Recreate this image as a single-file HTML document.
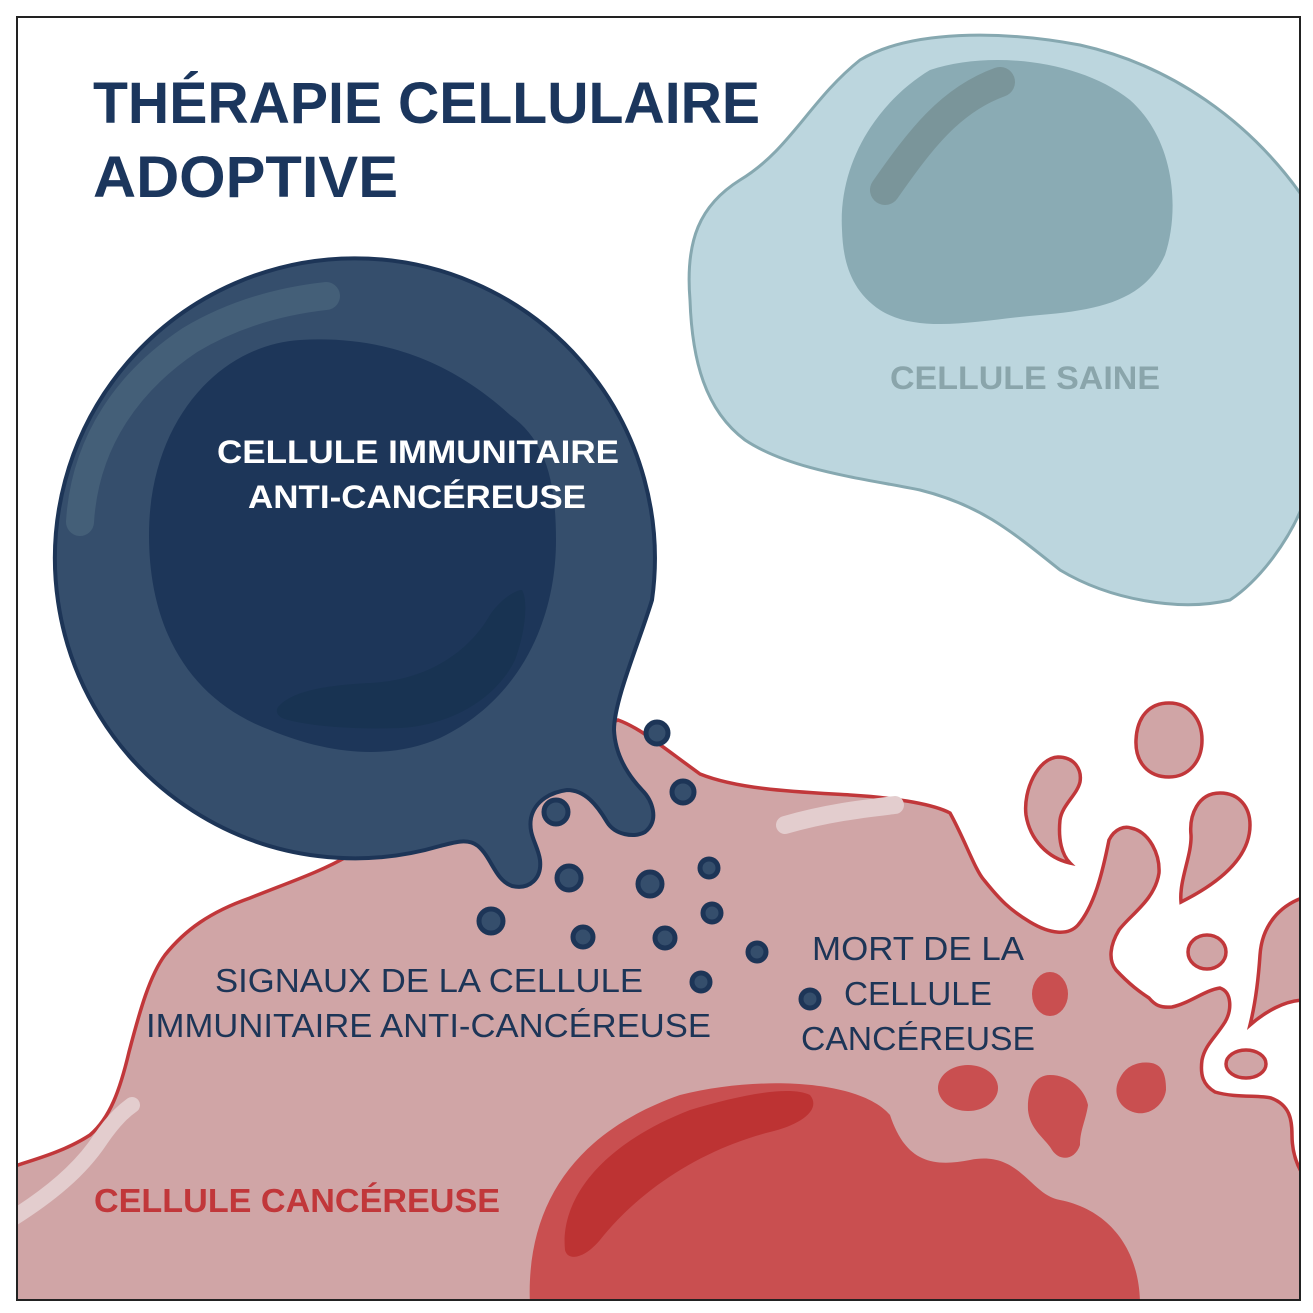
<!DOCTYPE html>
<html><head><meta charset="utf-8"><style>html,body{margin:0;padding:0;background:#fff}svg{display:block}</style></head>
<body>
<svg width="1313" height="1313" viewBox="0 0 1313 1313" xmlns="http://www.w3.org/2000/svg">
<defs><clipPath id="fr"><rect x="17" y="17" width="1283" height="1283"/></clipPath></defs>
<rect width="1313" height="1313" fill="#fff"/>
<g clip-path="url(#fr)">
<!-- healthy cell -->
<path d="M690,300 C685,240 700,205 740,180 C790,150 810,100 860,60 C910,30 1000,30 1080,45 C1170,65 1250,120 1305,200 L1305,500 C1290,540 1260,580 1230,600 C1180,612 1110,600 1060,570 C1010,530 980,505 920,490 C860,478 790,470 745,440 C705,410 692,360 690,300 Z" fill="#bcd6de" stroke="#86a8b0" stroke-width="3"/>
<path d="M842,230 C838,160 880,100 930,70 C990,50 1080,60 1130,100 C1175,140 1180,210 1165,255 C1145,300 1100,310 1040,315 C980,320 920,335 880,310 C850,290 843,260 842,230 Z" fill="#8aabb4"/>
<path d="M885,190 C920,140 950,100 1000,82" fill="none" stroke="#7a959a" stroke-width="30" stroke-linecap="round"/>
<!-- cancer cell -->
<path d="M10,1168 L18,1165 C40,1158 67,1150 90,1135 C110,1118 120,1090 129,1052 C140,1010 150,975 165,955 C185,930 210,912 250,898 C290,882 320,872 348,856 C420,815 520,760 618,720 C640,728 660,745 700,774 C740,790 800,792 850,795 C900,798 935,805 950,813 C965,840 975,870 984,880 C1000,900 1010,910 1030,922 C1050,934 1068,936 1078,925 C1095,905 1103,870 1109,840 C1115,828 1125,826 1131,828 C1150,832 1160,855 1159,873 C1155,900 1130,915 1119,930 C1110,945 1108,960 1116,970 C1130,985 1140,992 1149,998 C1155,1005 1160,1008 1172,1007 C1190,1003 1205,990 1220,988 C1232,992 1232,1010 1225,1022 C1215,1038 1205,1045 1202,1060 C1200,1075 1203,1085 1215,1092 C1235,1098 1260,1095 1271,1098 C1290,1105 1292,1120 1292,1135 C1292,1150 1296,1165 1305,1178 L1305,1305 L10,1305 Z" fill="#d0a5a6" stroke="#c1373a" stroke-width="3.5"/>
<path d="M1169,703 C1190,703 1202,720 1202,740 C1202,762 1188,777 1169,777 C1148,777 1135,762 1136,740 C1137,716 1150,703 1169,703 Z" fill="#d0a5a6" stroke="#c1373a" stroke-width="3.5"/>
<path d="M1058,757 C1075,757 1082,770 1080,782 C1077,795 1062,805 1060,820 C1058,840 1062,855 1070,863 C1048,858 1030,840 1026,815 C1023,790 1038,758 1058,757 Z" fill="#d0a5a6" stroke="#c1373a" stroke-width="3.5"/>
<path d="M1220,793 C1240,793 1250,808 1250,825 C1250,860 1215,885 1181,902 C1179,880 1192,855 1191,835 C1189,815 1198,793 1220,793 Z" fill="#d0a5a6" stroke="#c1373a" stroke-width="3.5"/>
<ellipse cx="1207" cy="952" rx="19" ry="17" fill="#d0a5a6" stroke="#c1373a" stroke-width="3.5"/>
<ellipse cx="1246" cy="1064" rx="20" ry="14" fill="#d0a5a6" stroke="#c1373a" stroke-width="3.5"/>
<path d="M1305,897 C1280,905 1262,925 1260,955 C1258,985 1255,1005 1250,1025 C1265,1012 1285,1000 1305,1000 Z" fill="#d0a5a6" stroke="#c1373a" stroke-width="3.5"/>
<!-- highlights -->
<path d="M785,825 C830,812 870,808 895,805" fill="none" stroke="#e3cdce" stroke-width="18" stroke-linecap="round"/>
<path d="M10,1220 C50,1195 80,1170 100,1140 C115,1118 125,1110 132,1105" fill="none" stroke="#e3cdce" stroke-width="16" stroke-linecap="round"/>
<!-- red blobs -->
<ellipse cx="1050" cy="994" rx="18" ry="22" fill="#c94f50"/>
<ellipse cx="968" cy="1088" rx="30" ry="23" fill="#c94f50"/>
<path d="M1050,1075 C1070,1075 1085,1090 1088,1105 C1086,1120 1080,1130 1080,1145 C1075,1160 1060,1162 1052,1150 C1045,1138 1030,1130 1028,1110 C1027,1090 1035,1075 1050,1075 Z" fill="#c94f50"/>
<path d="M1140,1063 C1160,1060 1166,1070 1166,1090 C1164,1105 1150,1115 1137,1113 C1120,1110 1113,1095 1118,1082 C1123,1070 1130,1065 1140,1063 Z" fill="#c94f50"/>
<!-- nucleus -->
<path d="M530,1305 C525,1200 580,1130 680,1095 C760,1075 860,1080 890,1115 C905,1160 930,1168 970,1160 C1020,1150 1030,1195 1060,1200 C1110,1210 1140,1250 1140,1305 Z" fill="#c94f50"/>
<path d="M565,1250 C560,1200 600,1145 690,1110 C740,1095 790,1085 810,1095 C822,1110 800,1125 770,1132 C700,1150 640,1190 600,1240 C585,1258 568,1262 565,1250 Z" fill="#bd3333"/>
<!-- immune cell -->
<path d="M652,600 A300,300 0 1 0 440,846 C455,842 468,838 478,846 C492,858 495,880 512,886 C530,890 542,878 540,860 C538,845 528,835 531,818 C535,800 552,792 567,790 C585,790 597,805 607,822 C615,835 634,838 645,832 C660,820 652,800 642,790 C625,772 615,752 614,730 C614,700 640,640 652,600 Z" fill="#354e6c" stroke="#1d3557" stroke-width="4"/>
<path d="M80,522 C85,440 130,380 190,340 C240,310 290,300 326,296" fill="none" stroke="#445f78" stroke-width="28" stroke-linecap="round"/>
<path d="M149,535 C149,420 220,345 300,340 C380,335 450,360 510,415 C545,440 556,480 556,540 C556,620 520,700 440,738 C390,760 330,755 270,730 C190,700 149,630 149,535 Z" fill="#1d3659"/>
<path d="M280,705 C295,690 330,685 370,683 C430,680 470,650 490,615 C500,600 515,590 522,590 C528,600 526,630 515,660 C495,700 450,725 400,728 C350,730 300,725 282,718 C275,714 276,708 280,705 Z" fill="#183352"/>
<!-- dots -->
<g fill="#354e6c" stroke="#1d3557" stroke-width="5">
<circle cx="657" cy="733" r="11"/><circle cx="683" cy="792" r="11"/><circle cx="556" cy="812" r="12"/>
<circle cx="569" cy="878" r="12"/><circle cx="650" cy="884" r="12"/><circle cx="709" cy="868" r="9"/>
<circle cx="712" cy="913" r="9"/><circle cx="491" cy="921" r="12"/><circle cx="583" cy="937" r="10"/>
<circle cx="665" cy="938" r="10"/><circle cx="757" cy="952" r="9"/><circle cx="701" cy="982" r="9"/>
<circle cx="810" cy="999" r="9"/>
</g>
</g>
<rect x="17" y="17" width="1283" height="1283" fill="none" stroke="#222" stroke-width="2"/>
<g font-family="Liberation Sans, sans-serif">
<text x="93" y="123" font-size="58" font-weight="bold" fill="#1b365d" textLength="667" lengthAdjust="spacingAndGlyphs">THÉRAPIE CELLULAIRE</text>
<text x="93" y="197" font-size="58" font-weight="bold" fill="#1b365d" textLength="305" lengthAdjust="spacingAndGlyphs">ADOPTIVE</text>
<text x="217" y="463" font-size="32" font-weight="bold" fill="#fff" textLength="402" lengthAdjust="spacingAndGlyphs">CELLULE IMMUNITAIRE</text>
<text x="248" y="508" font-size="32" font-weight="bold" fill="#fff" textLength="338" lengthAdjust="spacingAndGlyphs">ANTI-CANCÉREUSE</text>
<text x="890" y="389" font-size="32" font-weight="bold" fill="#8aa5ab" textLength="270" lengthAdjust="spacingAndGlyphs">CELLULE SAINE</text>
<text x="215" y="992" font-size="33" fill="#1d3557" textLength="428" lengthAdjust="spacingAndGlyphs">SIGNAUX DE LA CELLULE</text>
<text x="146" y="1037" font-size="33" fill="#1d3557" textLength="565" lengthAdjust="spacingAndGlyphs">IMMUNITAIRE ANTI-CANCÉREUSE</text>
<text x="812" y="960" font-size="33" fill="#1d3557" textLength="212" lengthAdjust="spacingAndGlyphs">MORT DE LA</text>
<text x="844" y="1005" font-size="33" fill="#1d3557" textLength="148" lengthAdjust="spacingAndGlyphs">CELLULE</text>
<text x="801" y="1050" font-size="33" fill="#1d3557" textLength="234" lengthAdjust="spacingAndGlyphs">CANCÉREUSE</text>
<text x="94" y="1212" font-size="33" font-weight="bold" fill="#c1373a" textLength="406" lengthAdjust="spacingAndGlyphs">CELLULE CANCÉREUSE</text>
</g>
</svg>
</body></html>
